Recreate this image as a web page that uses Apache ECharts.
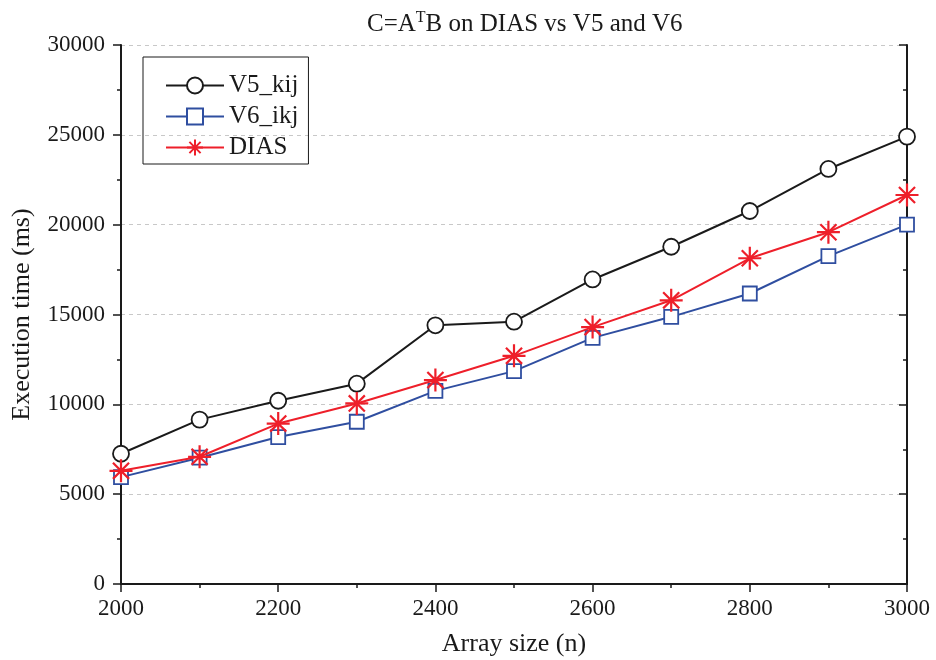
<!DOCTYPE html>
<html>
<head>
<meta charset="utf-8">
<script src="https://cdn.jsdelivr.net/npm/echarts@6/dist/echarts.min.js"></script>
<style>
  html, body { margin: 0; padding: 0; background: #fff; }
  #chart { width: 936px; height: 660px; }
</style>
</head>
<body>
<div id="chart"></div>
<script>
// array sizes (n)
const sizes = [2000, 2100, 2200, 2300, 2400, 2500, 2600, 2700, 2800, 2900, 3000];
// execution time (ms)
const v5Kij = [7250, 9150, 10200, 11150, 14400, 14600, 16950, 18770, 20760, 23100, 24900];
const v6Ikj = [5950, 7030, 8180, 9030, 10750, 11850, 13700, 14870, 16170, 18250, 20000];
const dias = [6300, 7080, 8930, 10050, 11350, 12700, 14300, 15790, 18130, 19580, 21650];

const font = "Liberation Serif";
const ink = "#1a1a1a";
const asterisk = "path://M10,0 L10,20 M0,10 L20,10 M3,3 L17,17 M17,3 L3,17";

const chart = echarts.init(document.getElementById("chart"));

function pairs(ys) {
  return sizes.map((x, i) => [x, ys[i]]);
}

const axisLine = { show: true, lineStyle: { color: ink, width: 2 } };
const tickStyle = { color: ink, width: 1.5 };

chart.setOption({
  animation: false,
  backgroundColor: "#fff",
  textStyle: { fontFamily: font },
  title: {
    text: "{a|C=A}{s|T}{a|B on DIAS vs V5 and V6}",
    left: 362,
    top: 5,
    textStyle: {
      fontWeight: "normal",
      rich: {
        a: { fontFamily: font, fontSize: 25, fontWeight: "normal", color: ink },
        s: { fontFamily: font, fontSize: 16, fontWeight: "normal", color: ink, padding: [0, 0, 12, 0] }
      }
    }
  },
  legend: {
    orient: "vertical",
    left: 143,
    top: 57,
    padding: [16, 10, 4, 22],
    itemWidth: 58,
    itemHeight: 20,
    itemGap: 6,
    borderColor: ink,
    borderWidth: 1,
    textStyle: { fontFamily: font, fontSize: 25, color: ink, lineHeight: 25 },
    data: ["V5_kij", "V6_ikj", "DIAS"]
  },
  grid: { left: 121, right: 29, top: 45, bottom: 76, outerBoundsMode: "none" },
  xAxis: [
    {
      type: "value",
      min: 2000,
      max: 3000,
      interval: 200,
      name: "Array size (n)",
      nameLocation: "middle",
      nameGap: 47,
      nameTextStyle: { fontFamily: font, fontSize: 26, color: ink },
      axisLine: axisLine,
      axisTick: { show: true, inside: false, length: 8, lineStyle: tickStyle },
      minorTick: { show: true, splitNumber: 2, length: 4, lineStyle: tickStyle },
      axisLabel: { fontFamily: font, fontSize: 23, color: ink, margin: 13, formatter: v => String(v) },
      splitLine: { show: false }
    },
    {
      type: "value",
      position: "top",
      min: 2000,
      max: 3000,
      interval: 200,
      axisLine: axisLine,
      axisTick: { show: true, inside: true, length: 8, lineStyle: tickStyle },
      minorTick: { show: true, splitNumber: 2, length: 4, lineStyle: tickStyle },
      axisLabel: { show: false },
      splitLine: { show: false }
    }
  ],
  yAxis: [
    {
      type: "value",
      min: 0,
      max: 30000,
      interval: 5000,
      name: "Execution time (ms)",
      nameLocation: "middle",
      nameGap: 86,
      nameTextStyle: { fontFamily: font, fontSize: 26, color: ink },
      axisLine: axisLine,
      axisTick: { show: true, inside: false, length: 8, lineStyle: tickStyle },
      minorTick: { show: true, splitNumber: 2, length: 4, lineStyle: tickStyle },
      axisLabel: { fontFamily: font, fontSize: 23, color: ink, margin: 16, formatter: v => String(v) },
      splitLine: { show: true, lineStyle: { color: "#c8c8c8", type: [4, 4], width: 1 } }
    },
    {
      type: "value",
      position: "right",
      min: 0,
      max: 30000,
      interval: 5000,
      axisLine: axisLine,
      axisTick: { show: true, inside: true, length: 8, lineStyle: tickStyle },
      minorTick: { show: true, splitNumber: 2, length: 4, lineStyle: tickStyle },
      axisLabel: { show: false },
      splitLine: { show: false }
    }
  ],
  series: [
    {
      name: "V5_kij",
      type: "line",
      data: pairs(v5Kij),
      symbol: "circle",
      symbolSize: 16,
      itemStyle: { color: "#fff", borderColor: ink, borderWidth: 1.8 },
      lineStyle: { color: ink, width: 2 },
      z: 3
    },
    {
      name: "V6_ikj",
      type: "line",
      data: pairs(v6Ikj),
      symbol: "rect",
      symbolSize: 14,
      itemStyle: { color: "#fff", borderColor: "#2f4ea0", borderWidth: 1.8 },
      lineStyle: { color: "#2f4ea0", width: 2 },
      z: 3
    },
    {
      name: "DIAS",
      type: "line",
      data: pairs(dias),
      symbol: asterisk,
      symbolSize: 23,
      itemStyle: { color: "#ee1f2a", borderColor: "#ee1f2a", borderWidth: 2.2 },
      lineStyle: { color: "#ee1f2a", width: 2 },
      z: 4
    }
  ]
});
</script>
</body>
</html>
